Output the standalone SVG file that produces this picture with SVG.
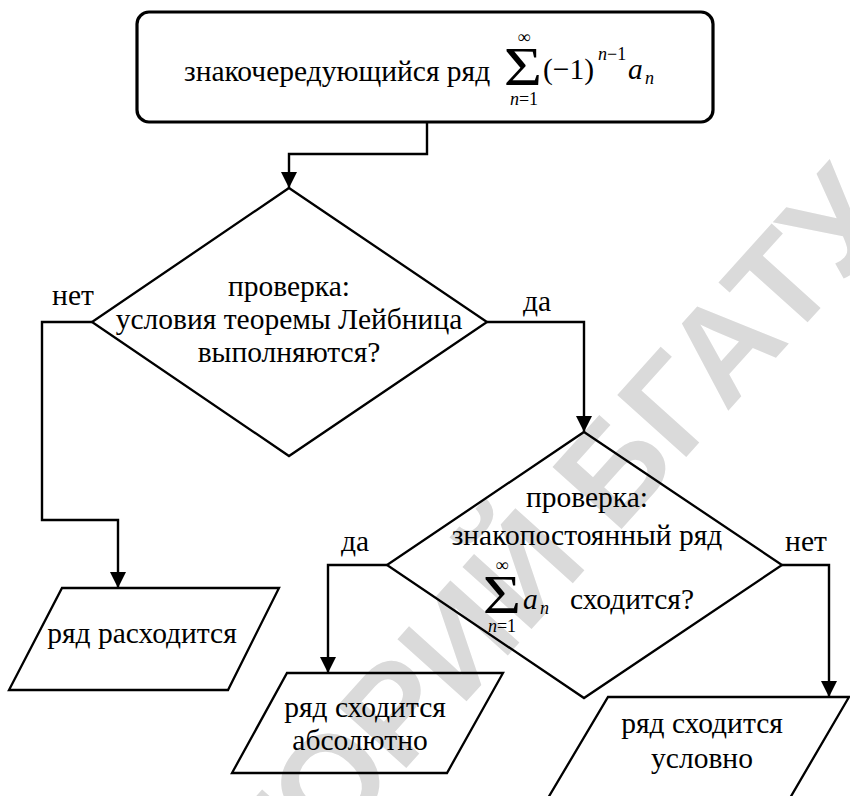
<svg xmlns="http://www.w3.org/2000/svg" width="850" height="796" viewBox="0 0 850 796">
<defs>
<marker id="arr" markerUnits="userSpaceOnUse" markerWidth="18" markerHeight="18" viewBox="0 0 18 18" refX="16" refY="9" orient="auto">
<path d="M0,1 L16,9 L0,17 Z" fill="#000"/>
</marker>
</defs>
<style>
.t{font-family:'Liberation Serif','DejaVu Serif',serif;font-size:29.5px;fill:#000}
.m{text-anchor:middle}
.s{font-size:18px}
.i{font-style:italic}
.big{font-size:54px}
.shape{fill:none;stroke:#000;stroke-width:2.3}
.edge{fill:none;stroke:#000;stroke-width:2.4}
.wm{font-family:'Liberation Sans',Arial,sans-serif;font-weight:bold;font-size:135px;fill:#dadada;text-anchor:end}
</style>
<rect width="850" height="796" fill="#fff"/>
<g id="watermark">
<text class="wm" transform="translate(898,222) rotate(-48)">РЕПОЗИТОРИЙ БГАТУ</text>
</g>
<g id="connectors">
<path class="edge" d="M427,122 V154 H289 V188" marker-end="url(#arr)"/>
<path class="edge" d="M92,322 H42 V520 H118 V588" marker-end="url(#arr)"/>
<path class="edge" d="M487,322 H584 V432" marker-end="url(#arr)"/>
<path class="edge" d="M387,565 H328 V673" marker-end="url(#arr)"/>
<path class="edge" d="M782,565 H829 V697" marker-end="url(#arr)"/>
<text class="t m" x="73" y="305">нет</text>
<text class="t m" x="537" y="311">да</text>
<text class="t m" x="355" y="551">да</text>
<text class="t m" x="806" y="551">нет</text>
</g>
<g id="start">
<rect x="137" y="12" width="576" height="110" rx="12" fill="none" stroke="#000" stroke-width="3.2"/>
<text class="t" x="184" y="81">знакочередующийся ряд</text>
<text class="t big m" transform="translate(523,85) scale(1.22,1)">Σ</text>
<text class="t s m" x="524" y="43">∞</text>
<text class="t s m" x="524" y="105"><tspan class="i">n</tspan>=1</text>
<text class="t" x="543" y="79">(−1)</text>
<text class="t s" x="598" y="60"><tspan class="i">n</tspan>−1</text>
<text class="t i" x="628" y="79">a</text>
<text class="t s i" x="645" y="84">n</text>
</g>
<g id="check1">
<polygon class="shape" points="289,188 487,322 289,456 92,322"/>
<text class="t m" x="289" y="296">проверка:</text>
<text class="t m" x="289" y="329">условия теоремы Лейбница</text>
<text class="t m" x="289" y="362">выполняются?</text>
</g>
<g id="check2">
<polygon class="shape" points="584,432 782,565 584,698 387,565"/>
<text class="t m" x="587" y="507">проверка:</text>
<text class="t m" x="587" y="545">знакопостоянный ряд</text>
<text class="t big m" transform="translate(502,613) scale(1.22,1)">Σ</text>
<text class="t s m" x="502" y="571">∞</text>
<text class="t s m" x="502" y="632"><tspan class="i">n</tspan>=1</text>
<text class="t i" x="523" y="609">a</text>
<text class="t s i" x="540" y="614">n</text>
<text class="t" x="570" y="609">сходится?</text>
</g>
<g id="diverges">
<polygon class="shape" points="62,588 279,588 228,690 9,690"/>
<text class="t m" x="142" y="643">ряд расходится</text>
</g>
<g id="absolute">
<polygon class="shape" points="287,673 503,673 447,773 232,773"/>
<text class="t m" x="365" y="717">ряд сходится</text>
<text class="t m" x="360" y="750">абсолютно</text>
</g>
<g id="conditional">
<polygon class="shape" points="608,697 849,697 790,798 548,798"/>
<text class="t m" x="702" y="733">ряд сходится</text>
<text class="t m" x="702" y="768">условно</text>
</g>
</svg>
